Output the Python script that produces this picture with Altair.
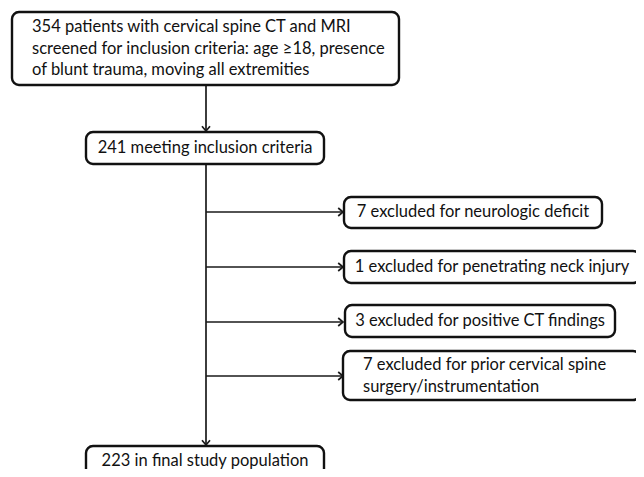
import altair as alt
import pandas as pd

# ---- data (pixel layout of the flow diagram) ----
box_text = [
    "354 patients with cervical spine CT and MRI\nscreened for inclusion criteria: age \u226518, presence\nof blunt trauma, moving all extremities",
    "241 meeting inclusion criteria",
    "7 excluded for neurologic deficit",
    "1 excluded for penetrating neck injury",
    "3 excluded for positive CT findings",
    "7 excluded for prior cervical spine\nsurgery/instrumentation",
    "223 in final study population",
]
box_x1 = [12, 86, 344, 344, 345, 343, 86]
box_x2 = [399, 324, 602, 640, 615, 640, 324]
box_y1 = [12, 132, 197, 251, 305, 351, 446]
box_y2 = [85, 164, 228, 283, 337, 400, 476]
box_align = ["left", "center", "center", "center", "center", "left", "center"]
first_line_y = [27, 148, 212, 267, 321, 365, 461]

# connectors
line_x1 = [206, 206, 206, 206, 206, 206]
line_x2 = [206, 206, 342, 342, 342, 342]
line_y1 = [85, 164, 212, 267, 322, 376]
line_y2 = [130, 445, 212, 267, 322, 376]

arrow_x = [206, 206, 343, 343, 343, 343]
arrow_y = [131, 445, 212, 267, 322, 376]
arrow_dir = ["down", "down", "right", "right", "right", "right"]

boxes = pd.DataFrame({
    "x1": box_x1, "x2": box_x2, "y1": box_y1, "y2": box_y2,
    "text": box_text, "align": box_align, "yt": first_line_y,
})
boxes["xc"] = (boxes["x1"] + boxes["x2"]) / 2
boxes["xl"] = boxes["x1"] + 20
boxes["lines"] = boxes["text"].str.split("\n")

lines = pd.DataFrame({"x1": line_x1, "x2": line_x2, "y1": line_y1, "y2": line_y2})
arrows = pd.DataFrame({"x": arrow_x, "y": arrow_y, "dir": arrow_dir})

W, H = 628, 461
xs = alt.Scale(domain=[8, 8 + W], nice=False, zero=False)
ys = alt.Scale(domain=[8, 8 + H], nice=False, zero=False, reverse=True)
X = lambda f: alt.X(f, type="quantitative", scale=xs, axis=None)
Y = lambda f: alt.Y(f, type="quantitative", scale=ys, axis=None)

rules = alt.Chart(lines).mark_rule(color="#1a1a1a", strokeWidth=1.7, clip=False).encode(
    x=X("x1"), x2="x2", y=Y("y1"), y2="y2"
)

rects = alt.Chart(boxes).mark_rect(
    fill="white", stroke="#111", strokeWidth=2.4, cornerRadius=7, clip=False
).encode(x=X("x1"), x2="x2", y=Y("y1"), y2="y2")

FONT = "Lato"
FS = 16.5
txt_left = alt.Chart(boxes[boxes["align"] == "left"]).mark_text(
    align="left", baseline="middle", font=FONT, fontSize=FS, lineHeight=21.5, color="#111"
).encode(x=X("xl"), y=Y("yt"), text="lines")

txt_center = alt.Chart(boxes[boxes["align"] == "center"]).mark_text(
    align="center", baseline="middle", font=FONT, fontSize=FS, color="#111"
).encode(x=X("xc"), y=Y("yt"), text="lines")

down = alt.Chart(arrows[arrows["dir"] == "down"]).mark_point(
    shape="M-1,-1.2L0,0L1,-1.2", filled=False, stroke="#1a1a1a", strokeWidth=1.7,
    size=64, opacity=1, clip=False
).encode(x=X("x"), y=Y("y"))

right = alt.Chart(arrows[arrows["dir"] == "right"]).mark_point(
    shape="M-1.2,-1L0,0L-1.2,1", filled=False, stroke="#1a1a1a", strokeWidth=1.7,
    size=64, opacity=1, clip=False
).encode(x=X("x"), y=Y("y"))

chart = alt.layer(rules, down, right, rects, txt_left, txt_center).properties(
    width=W, height=H, padding=0, autosize=alt.AutoSizeParams(type="none")
).configure(background="white", view=alt.ViewConfig(stroke=None))

chart.save("out.html", embed_options={"renderer": "svg", "actions": False})
